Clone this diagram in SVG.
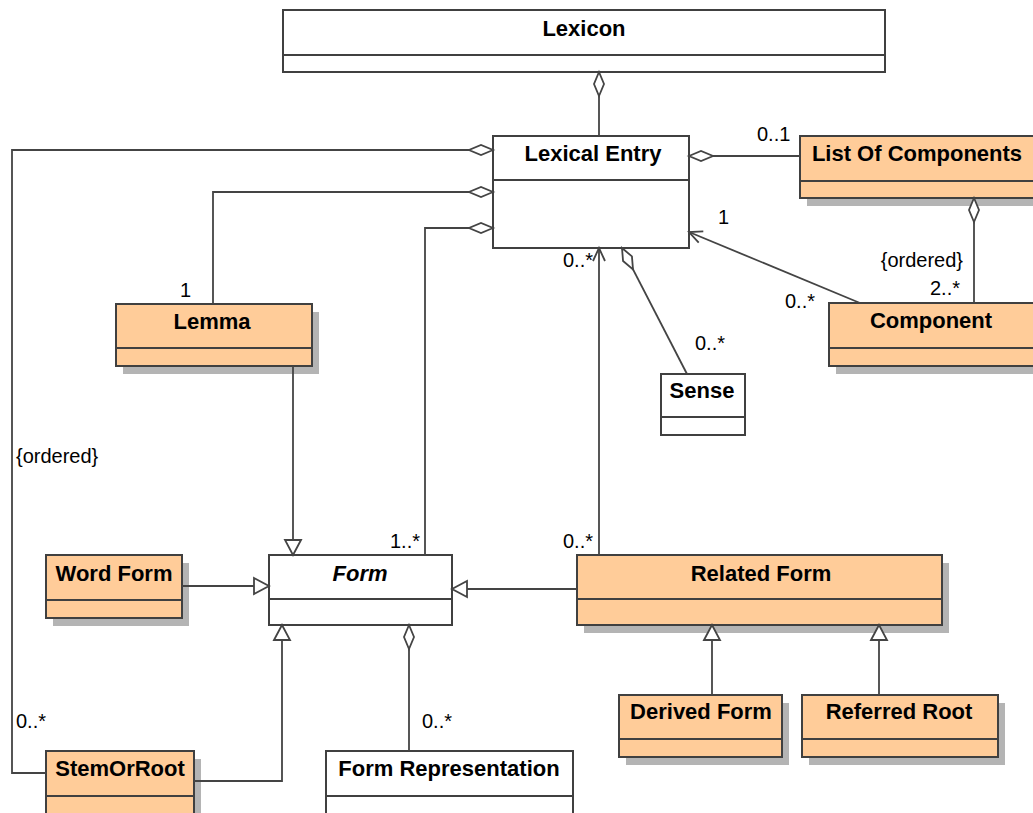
<svg xmlns="http://www.w3.org/2000/svg" width="1033" height="813" viewBox="0 0 1033 813">
  <style>
    .box { fill: #ffffff; stroke: #404040; stroke-width: 2; }
    .peach { fill: #ffcc99; stroke: #404040; stroke-width: 2; }
    .shadow { fill: #b4b4b4; stroke: none; }
    .div { stroke: #404040; stroke-width: 2; fill: none; }
    .name { font-family: "Liberation Sans", Arial, sans-serif; font-size: 22px; font-weight: bold; fill: #000; text-anchor: middle; }
    .abstract { font-style: italic; }
    .lbl { font-family: "Liberation Sans", Arial, sans-serif; font-size: 20px; fill: #000; }
    .end { text-anchor: end; }
    .conn path { fill: none; stroke: #444444; stroke-width: 1.8; }
    .agg { marker-start: url(#diamond); }
    .gen { marker-end: url(#triangle); }
    .nav { marker-end: url(#open); }
  </style>
  <defs>
    <marker id="diamond" markerUnits="userSpaceOnUse" orient="auto" refX="0" refY="0" markerWidth="30" markerHeight="14" overflow="visible">
      <path d="M0 0 L12 -5 L24 0 L12 5 Z" fill="#ffffff" stroke="#444444" stroke-width="1.8"/>
    </marker>
    <marker id="triangle" markerUnits="userSpaceOnUse" orient="auto" refX="0" refY="0" markerWidth="20" markerHeight="20" overflow="visible">
      <path d="M-15 -8 L0 0 L-15 8 Z" fill="#ffffff" stroke="#444444" stroke-width="1.8"/>
    </marker>
    <marker id="open" markerUnits="userSpaceOnUse" orient="auto" refX="0" refY="0" markerWidth="20" markerHeight="20" overflow="visible">
      <path d="M-13 -6 L0 0 L-13 6" fill="none" stroke="#444444" stroke-width="1.8"/>
    </marker>
  </defs>

  <g id="lexicon">
    <rect class="box" x="283" y="10" width="602" height="62"/>
    <line class="div" x1="283" y1="55" x2="885" y2="55"/>
    <text class="name" x="584" y="36">Lexicon</text>
  </g>

  <g id="lexical-entry">
    <rect class="box" x="493" y="136" width="196" height="112"/>
    <line class="div" x1="493" y1="180" x2="689" y2="180"/>
    <text class="name" x="593" y="161">Lexical Entry</text>
  </g>

  <g id="list-of-components">
    <rect class="shadow" x="807" y="144" width="236" height="62"/>
    <rect class="peach" x="800" y="136" width="236" height="62"/>
    <line class="div" x1="800" y1="181" x2="1036" y2="181"/>
    <text class="name" x="917" y="161">List Of Components</text>
  </g>

  <g id="component">
    <rect class="shadow" x="836" y="311" width="208" height="63"/>
    <rect class="peach" x="829" y="303" width="208" height="63"/>
    <line class="div" x1="829" y1="348" x2="1037" y2="348"/>
    <text class="name" x="931" y="328">Component</text>
  </g>

  <g id="lemma">
    <rect class="shadow" x="123" y="312" width="196" height="62"/>
    <rect class="peach" x="116" y="304" width="196" height="62"/>
    <line class="div" x1="116" y1="348" x2="312" y2="348"/>
    <text class="name" x="212" y="329">Lemma</text>
  </g>

  <g id="sense">
    <rect class="box" x="661" y="374" width="84" height="61"/>
    <line class="div" x1="661" y1="417" x2="745" y2="417"/>
    <text class="name" x="702" y="398">Sense</text>
  </g>

  <g id="word-form">
    <rect class="shadow" x="53" y="563" width="136" height="63"/>
    <rect class="peach" x="46" y="555" width="136" height="63"/>
    <line class="div" x1="46" y1="600" x2="182" y2="600"/>
    <text class="name" x="114" y="581">Word Form</text>
  </g>

  <g id="form">
    <rect class="box" x="269" y="555" width="183" height="70"/>
    <line class="div" x1="269" y1="599" x2="452" y2="599"/>
    <text class="name abstract" x="360" y="581">Form</text>
  </g>

  <g id="related-form">
    <rect class="shadow" x="584" y="563" width="365" height="70"/>
    <rect class="peach" x="577" y="555" width="365" height="70"/>
    <line class="div" x1="577" y1="599" x2="942" y2="599"/>
    <text class="name" x="761" y="581">Related Form</text>
  </g>

  <g id="derived-form">
    <rect class="shadow" x="626" y="703" width="163" height="62"/>
    <rect class="peach" x="619" y="695" width="163" height="62"/>
    <line class="div" x1="619" y1="739" x2="782" y2="739"/>
    <text class="name" x="701" y="719">Derived Form</text>
  </g>

  <g id="referred-root">
    <rect class="shadow" x="809" y="703" width="196" height="62"/>
    <rect class="peach" x="802" y="695" width="196" height="62"/>
    <line class="div" x1="802" y1="739" x2="998" y2="739"/>
    <text class="name" x="899" y="719">Referred Root</text>
  </g>

  <g id="stem-or-root">
    <rect class="shadow" x="53" y="759" width="148" height="70"/>
    <rect class="peach" x="46" y="751" width="148" height="70"/>
    <line class="div" x1="46" y1="796" x2="194" y2="796"/>
    <text class="name" x="120" y="776">StemOrRoot</text>
  </g>

  <g id="form-representation">
    <rect class="box" x="326" y="751" width="247" height="70"/>
    <line class="div" x1="326" y1="796" x2="573" y2="796"/>
    <text class="name" x="449" y="776">Form Representation</text>
  </g>

  <!-- associations, aggregations and generalizations, drawn over the box shadows -->
  <g id="connectors" class="conn">
    <path class="agg" d="M599 72 L599 136"/>
    <path class="agg" d="M493 150 L12 150 L12 773 L46 773"/>
    <path class="agg" d="M493 192 L213 192 L213 304"/>
    <path class="agg" d="M493 228 L425 228 L425 555"/>
    <path class="agg" d="M689 156 L800 156"/>
    <path class="agg" d="M974 198 L974 303"/>
    <path class="nav" d="M860 303 L689 232"/>
    <path class="agg" d="M622 248 L687 374"/>
    <path class="nav" d="M599 555 L599 248"/>
    <path class="gen" d="M293 366 L293 555"/>
    <path class="gen" d="M182 586 L269 586"/>
    <path class="gen" d="M194 781 L282 781 L282 625"/>
    <path class="gen" d="M577 589 L452 589"/>
    <path class="agg" d="M409 625 L409 751"/>
    <path class="gen" d="M712 695 L712 625"/>
    <path class="gen" d="M879 695 L879 625"/>
  </g>

  <!-- multiplicities and constraints -->
  <g id="labels">
    <text class="lbl" x="757" y="141">0..1</text>
    <text class="lbl" x="718" y="224">1</text>
    <text class="lbl end" x="963" y="267">{ordered}</text>
    <text class="lbl end" x="960" y="295">2..*</text>
    <text class="lbl" x="785" y="308">0..*</text>
    <text class="lbl" x="695" y="350">0..*</text>
    <text class="lbl" x="563" y="267">0..*</text>
    <text class="lbl" x="180" y="297">1</text>
    <text class="lbl" x="16" y="463">{ordered}</text>
    <text class="lbl" x="390" y="548">1..*</text>
    <text class="lbl" x="563" y="548">0..*</text>
    <text class="lbl" x="16" y="728">0..*</text>
    <text class="lbl" x="422" y="728">0..*</text>
  </g>
</svg>
